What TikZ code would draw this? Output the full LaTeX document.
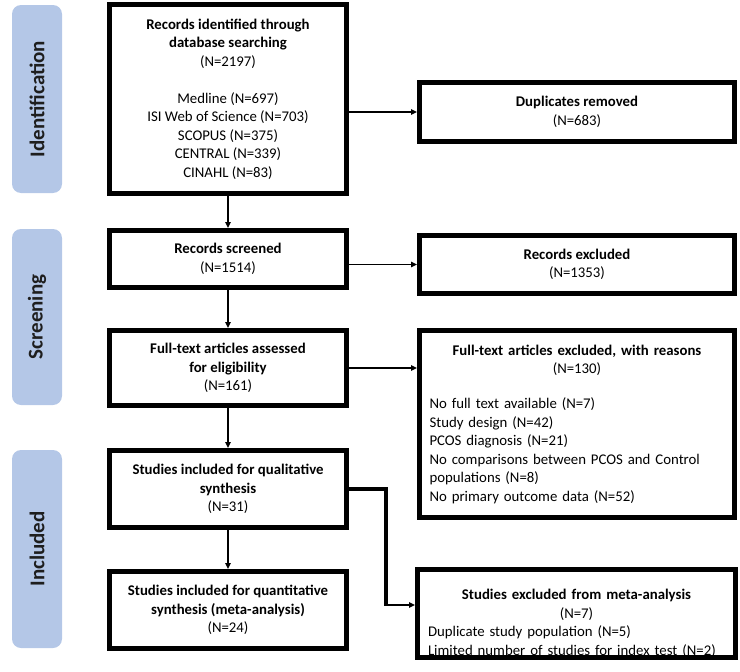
\documentclass[tikz,border=0pt]{standalone}
\usepackage{fontspec}
\setmainfont{Carlito}
\usetikzlibrary{arrows.meta,positioning,calc}
\definecolor{phaseblue}{RGB}{180,199,231}
\definecolor{phasetext}{RGB}{30,30,30}

\begin{document}
\begin{tikzpicture}[x=1pt, y=-1pt,
    box/.style={draw, line width=5pt, align=center, inner sep=0pt, font=\fontsize{14.8}{18.5}\selectfont},
    phase/.style={fill=phaseblue, rounded corners=9pt, rotate=90, minimum height=50pt, text=phasetext, font=\fontsize{21}{24}\selectfont\bfseries},
    flow/.style={-{Triangle[length=6pt,width=5.5pt]}, line width=1.8pt}]
    \useasboundingbox (0,0) rectangle (740,672);

    % Phase labels
    \node[phase, minimum width=188pt] (identification) at (37,99) {Identification};
    \node[phase, minimum width=176pt] (screening) at (37,317) {Screening};
    \node[phase, minimum width=198pt] (included) at (37,549) {Included};

    % Identification
    \node[box, minimum width=237pt, minimum height=189pt] (ident) at (228,99)
        {\bfseries Records identified through\\\bfseries database searching\\(N=2197)\\[18.5pt]
         Medline (N=697)\\ISI Web of Science (N=703)\\SCOPUS (N=375)\\CENTRAL (N=339)\\CINAHL (N=83)};
    \node[box, minimum width=315pt, minimum height=59pt] (dup) at (577,112)
        {\bfseries Duplicates removed\\(N=683)};

    % Screening
    \node[box, minimum width=237pt, minimum height=57pt] (screen) at (228,259)
        {\bfseries Records screened\\(N=1514)};
    \node[box, minimum width=315pt, minimum height=58pt] (excl) at (577,264.5)
        {\bfseries Records excluded\\(N=1353)};
    \node[box, minimum width=237pt, minimum height=75pt] (full) at (228,368)
        {\bfseries Full-text articles assessed\\\bfseries for eligibility\\(N=161)};
    \node[box, minimum width=315pt, minimum height=187pt, text width=295pt, align=left] (fullex) at (577,424)
        {{\centering\bfseries Full-text articles excluded, with reasons\\\mdseries(N=130)\par}
         \vspace{16.5pt}
         No full text available (N=7)\\Study design (N=42)\\PCOS diagnosis (N=21)\\
         No comparisons between PCOS and Control populations (N=8)\\No primary outcome data (N=52)};

    % Included
    \node[box, minimum width=237pt, minimum height=77pt] (qual) at (228,489)
        {\bfseries Studies included for qualitative\\\bfseries synthesis\\(N=31)};
    \node[box, minimum width=237pt, minimum height=77pt] (quant) at (228,610)
        {\bfseries Studies included for quantitative\\\bfseries synthesis (meta-analysis)\\(N=24)};
    \node[box, minimum width=318pt, minimum height=86pt, text width=297pt, align=left] (metaex) at (576.5,613.5)
        {{\centering\rule{0pt}{30pt}\bfseries Studies excluded from meta-analysis\\\mdseries(N=7)\par}
         Duplicate study population (N=5)\\Limited number of studies for index test (N=2)};

    % Connectors
    \draw[flow] (ident) -- (screen);
    \draw[flow] (ident.east |- dup.west) -- (dup.west);
    \draw[flow] (screen) -- (full);
    \draw[flow] (screen.east |- excl.west) -- (excl.west);
    \draw[flow] (full) -- (qual);
    \draw[flow] (full.east) -- (full.east -| fullex.west);
    \draw[flow] (qual) -- (quant);
    \coordinate (bend) at (386,605);
    \draw[line width=4pt, line join=miter] (qual.east) -| ([yshift=-1pt]bend);
    \draw[flow] (bend) -- (bend -| metaex.west);
\end{tikzpicture}
\end{document}
